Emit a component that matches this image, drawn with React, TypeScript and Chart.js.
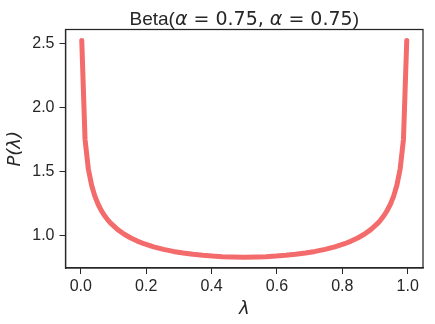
import React, { useEffect, useRef } from "react";
import { Chart, registerables } from "chart.js";

Chart.register(...registerables);

const xValues = [
  0.003, 0.013, 0.023, 0.033, 0.043, 0.053, 0.063, 0.073, 0.083, 0.093,
  0.113, 0.133, 0.153, 0.173, 0.193, 0.223, 0.253, 0.283, 0.313, 0.343,
  0.373, 0.403, 0.433, 0.463, 0.5, 0.537, 0.567, 0.597, 0.627, 0.657,
  0.687, 0.717, 0.747, 0.777, 0.807, 0.827, 0.847, 0.867, 0.887, 0.907,
  0.917, 0.927, 0.937, 0.947, 0.957, 0.967, 0.977, 0.987, 0.997,
];
const densityValues = [
  2.524, 1.754, 1.5244, 1.3964, 1.3104, 1.2469, 1.1973, 1.1571, 1.1236, 1.0951,
  1.0489, 1.0128, 0.9836, 0.9596, 0.9394, 0.9147, 0.8951, 0.8793, 0.8667, 0.8566,
  0.8487, 0.8427, 0.8384, 0.8358, 0.8346, 0.8358, 0.8384, 0.8427, 0.8487, 0.8566,
  0.8667, 0.8793, 0.8951, 0.9147, 0.9394, 0.9596, 0.9836, 1.0128, 1.0489, 1.0951,
  1.1236, 1.1571, 1.1973, 1.2469, 1.3104, 1.3964, 1.5244, 1.754, 2.524,
];
const xTicks = [0.0, 0.2, 0.4, 0.6, 0.8, 1.0];
const yTicks = [1.0, 1.5, 2.0, 2.5];

// title pieces: [text, isMathItalic]
const TITLE_PARTS: [string, string][] = [
  ["Beta(", "text"],
  ["α", "mathit"],
  [" = 0.75, ", "math"],
  ["α", "mathit"],
  [" = 0.75", "math"],
  [")", "text"],
];
const X_LABEL = "λ";
const Y_LABEL = "P(λ)";

const TEXT = "#262626";
const SANS = "'Liberation Sans', Arial, sans-serif";
const MATH = "'DejaVu Sans', sans-serif";

const framePlugin = {
  id: "frame",
  afterDatasetsDraw(chart: any) {
    const { ctx, chartArea } = chart;
    ctx.save();
    ctx.strokeStyle = TEXT;
    ctx.lineWidth = 1.25;
    ctx.strokeRect(chartArea.left, chartArea.top, chartArea.right - chartArea.left, chartArea.bottom - chartArea.top);
    // title
    const size = 19;
    const fontFor = (kind: string) =>
      kind === "text" ? `${size}px ${SANS}` : kind === "mathit" ? `italic ${size}px ${MATH}` : `${size}px ${MATH}`;
    let total = 0;
    const widths = TITLE_PARTS.map(([t, k]) => {
      ctx.font = fontFor(k);
      const w = ctx.measureText(t).width;
      total += w;
      return w;
    });
    let x = (chartArea.left + chartArea.right) / 2 - total / 2;
    ctx.fillStyle = TEXT;
    ctx.textBaseline = "alphabetic";
    ctx.textAlign = "left";
    TITLE_PARTS.forEach(([t, k], i) => {
      ctx.font = fontFor(k);
      ctx.fillText(t, x, 25);
      x += widths[i];
    });
    ctx.restore();
  },
};

export default function App() {
  const ref = useRef<HTMLCanvasElement>(null);
  useEffect(() => {
    if (!ref.current) return;
    const data = xValues.map((x, i) => ({ x, y: densityValues[i] }));
    const chart = new Chart(ref.current, {
      type: "line",
      data: {
        datasets: [
          {
            data,
            borderColor: "#f36b6b",
            borderWidth: 5,
            pointRadius: 0,
            fill: false,
            tension: 0,
            borderJoinStyle: "round",
            borderCapStyle: "round",
          },
        ],
      },
      plugins: [framePlugin],
      options: {
        responsive: false,
        animation: false,
        layout: { padding: { top: 29.5, right: 12, left: 0, bottom: 0 } },
        plugins: {
          legend: { display: false },
          tooltip: { enabled: false },
          title: { display: false },
        },
        scales: {
          x: {
            type: "linear",
            min: -0.0467,
            max: 1.0467,
            afterBuildTicks: (axis: any) => {
              axis.ticks = xTicks.map((v) => ({ value: v }));
            },
            afterFit: (axis: any) => {
              axis.height = 56;
            },
            ticks: {
              color: TEXT,
              font: { family: SANS, size: 16 },
              padding: 3,
              maxRotation: 0,
              callback: (v: any) => Number(v).toFixed(1),
            },
            grid: {
              display: true,
              drawOnChartArea: false,
              drawTicks: true,
              tickLength: 6,
              color: TEXT,
            },
            border: { display: true, color: TEXT, width: 1.25 },
            title: {
              display: true,
              text: X_LABEL,
              color: TEXT,
              font: { family: MATH, size: 18, style: "italic" },
              padding: { top: 0, bottom: 4 },
            },
          },
          y: {
            type: "linear",
            min: 0.75,
            max: 2.609,
            afterBuildTicks: (axis: any) => {
              axis.ticks = yTicks.map((v) => ({ value: v }));
            },
            afterFit: (axis: any) => {
              axis.width = 65.5;
            },
            ticks: {
              color: TEXT,
              font: { family: SANS, size: 16 },
              padding: 5,
              callback: (v: any) => Number(v).toFixed(1),
            },
            grid: {
              display: true,
              drawOnChartArea: false,
              drawTicks: true,
              tickLength: 6,
              color: TEXT,
            },
            border: { display: true, color: TEXT, width: 1.25 },
            title: {
              display: true,
              text: Y_LABEL,
              color: TEXT,
              font: { family: MATH, size: 18, style: "italic" },
              padding: { top: 5, bottom: 2 },
            },
          },
        },
      },
    });
    return () => chart.destroy();
  }, []);
  return (
    <div style={{ position: "fixed", left: 0, top: 0, width: 435, height: 324, background: "#fff" }}>
      <canvas ref={ref} width={435} height={324} />
    </div>
  );
}
